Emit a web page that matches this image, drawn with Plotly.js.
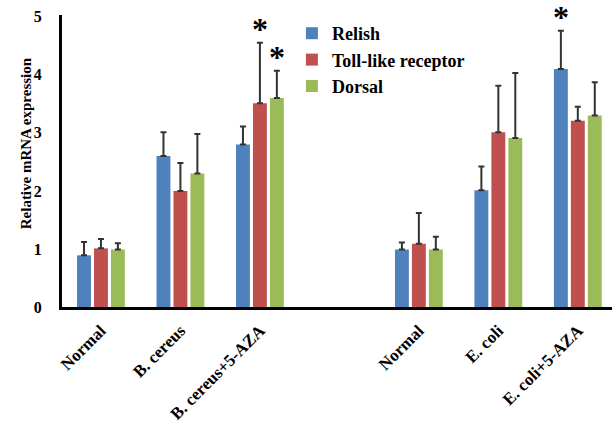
<!DOCTYPE html>
<html>
<head>
<meta charset="utf-8">
<script src="https://cdn.plot.ly/plotly-3.0.1.min.js"></script>
<style>html,body{margin:0;padding:0;background:#fff;}#chart{width:612px;height:427px;}</style>
</head>
<body>
<div id="chart"></div>
<script>
const categories = ["Normal", "B. cereus", "B. cereus+5-AZA", "Normal", "E. coli", "E. coli+5-AZA"];
const positions = [0, 1, 2, 4, 5, 6];
const relish = [0.89, 2.60, 2.80, 0.99, 2.01, 4.10];
const relishErr = [0.23, 0.41, 0.31, 0.12, 0.41, 0.66];
const toll = [1.01, 2.00, 3.51, 1.09, 3.01, 3.21];
const tollErr = [0.16, 0.48, 1.04, 0.53, 0.80, 0.24];
const dorsal = [0.99, 2.30, 3.60, 0.99, 2.91, 3.30];
const dorsalErr = [0.11, 0.68, 0.47, 0.22, 1.12, 0.57];
const seriesNames = ["Relish", "Toll-like receptor", "Dorsal"];
const colors = ["#4F81BD", "#C0504D", "#9BBB59"];

const font = "'Liberation Serif', 'Times New Roman', serif";
function mk(name, y, err, color) {
  return {
    type: 'bar', name: name, x: positions, y: y,
    marker: {color: color},
    error_y: {type: 'data', array: err, arrayminus: err.map(() => 0), symmetric: false,
              color: '#333', thickness: 2, width: 3}
  };
}
const data = [
  mk(seriesNames[0], relish, relishErr, colors[0]),
  mk(seriesNames[1], toll, tollErr, colors[1]),
  mk(seriesNames[2], dorsal, dorsalErr, colors[2])
];
const stars = [
  {x: 2, y: toll[2] + tollErr[2], xshift: 0},
  {x: 2, y: dorsal[2] + dorsalErr[2], xshift: 17},
  {x: 6, y: relish[5] + relishErr[5], xshift: -17}
];
const annotations = stars.map(s => ({x: s.x, y: s.y, xref: 'x', yref: 'y', xshift: s.xshift, yshift: 14,
    text: '*', showarrow: false, yanchor: 'middle',
    font: {family: font, size: 32, color: '#000', weight: 'bold'}}));
annotations.push({xref: 'paper', yref: 'paper', x: -0.064, y: 0.56, xanchor: 'center', yanchor: 'middle',
  text: 'Relative mRNA expression', textangle: -90, showarrow: false,
  font: {family: font, size: 15, color: '#000', weight: 'bold'}});
const layout = {
  width: 612, height: 427,
  margin: {l: 62, r: 0, t: 15, b: 120},
  paper_bgcolor: '#fff', plot_bgcolor: '#fff',
  barmode: 'group', bargap: 0.36, bargroupgap: 0.18,
  showlegend: true,
  legend: {x: 0.418, y: 1.0, xanchor: 'left', yanchor: 'top', bgcolor: 'rgba(0,0,0,0)',
           font: {family: font, size: 18, color: '#000', weight: 'bold'}, tracegroupgap: 0,
           itemwidth: 30},
  xaxis: {range: [-0.49, 6.43], tickvals: positions, ticktext: categories, tickangle: -45,
          showline: true, linecolor: '#000', linewidth: 3, ticks: '', showgrid: false, zeroline: false,
          ticklabelstandoff: 4,
          tickfont: {family: font, size: 17, color: '#000', weight: 'bold'}},
  yaxis: {range: [0, 5.03], tickvals: [0, 1, 2, 3, 4, 5], showline: true, linecolor: '#000', linewidth: 3,
          ticks: '', showgrid: false, zeroline: false, ticklabelstandoff: 14,
          tickfont: {family: font, size: 16, color: '#000', weight: 'bold'}},
  annotations: annotations
};
Plotly.newPlot('chart', data, layout, {displayModeBar: false, staticPlot: true});
</script>
</body>
</html>
